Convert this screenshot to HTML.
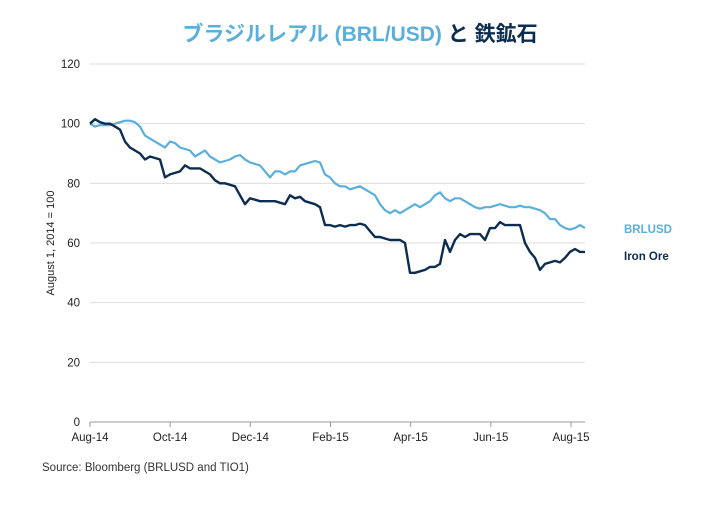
<!DOCTYPE html>
<html><head><meta charset="utf-8"><style>
body{margin:0;background:#fff;width:720px;height:500px;overflow:hidden;font-family:"Liberation Sans","Noto Sans CJK JP",sans-serif}
</style></head><body>
<svg width="720" height="500" font-family="Liberation Sans, Noto Sans CJK JP, sans-serif">
<text x="360" y="41" text-anchor="middle" font-size="21" font-weight="bold" fill="#5aafdc">ブラジルレアル (BRL/USD) <tspan fill="#0d2c4f">と 鉄鉱石</tspan></text>
<g id="grid"></g><g id="yt"></g><g id="xt"></g>
<text transform="translate(54,243) rotate(-90)" text-anchor="middle" font-size="11" fill="#222">August 1, 2014 = 100</text>
<path id="brl" fill="none" stroke="#5aafdc" stroke-width="2.2" stroke-linejoin="round"/>
<path id="iron" fill="none" stroke="#0d2c4f" stroke-width="2.4" stroke-linejoin="round"/>
<text x="624" y="233" font-size="11.5" font-weight="bold" fill="#5aafdc">BRLUSD</text>
<text x="624" y="260" font-size="11.5" font-weight="bold" fill="#0d2c4f">Iron Ore</text>
<text x="42" y="471" font-size="11.5" fill="#333">Source: Bloomberg (BRLUSD and TIO1)</text>
</svg>
<script>
const yTicks=[0,20,40,60,80,100,120];
const xTickLabels=["Aug-14","Oct-14","Dec-14","Feb-15","Apr-15","Jun-15","Aug-15"];
const xTickMonths=[0,2,4,6,8,10,12];
const brlValues=[100,99,99.5,99.5,99.5,100,100.5,101,101,100.5,99,96,95,94,93,92,94,93.5,92,91.5,91,89,90,91,89,88,87,87.5,88,89,89.5,88,87,86.5,86,84,82,84,84,83,84,84,86,86.5,87,87.5,87,83,82,80,79,79,78,78.5,79,78,77,76,73,71,70,71,70,71,72,73,72,73,74,76,77,75,74,75,75,74,73,72,71.5,72,72,72.5,73,72.5,72,72,72.5,72,72,71.5,71,70,68,68,66,65,64.5,65,66,65];
const ironValues=[100,101.5,100.5,100,100,99,98,94,92,91,90,88,89,88.5,88,82,83,83.5,84,86,85,85,85,84,83,81,80,80,79.5,79,76,73,75,74.5,74,74,74,74,73.5,73,76,75,75.5,74,73.5,73,72,66,66,65.5,66,65.5,66,66,66.5,66,64,62,62,61.5,61,61,61,60,50,50,50.5,51,52,52,53,61,57,61,63,62,63,63,63,61,65,65,67,66,66,66,66,60,57,55,51,53,53.5,54,53.5,55,57,58,57,57];
const stepMonths=5/40.08;
const X0=90,X1=571,Y0=422,Y1=64,XR=585;
const xm=m=>X0+(X1-X0)*m/12;
const yv=v=>Y0-(Y0-Y1)*v/120;
const NS="http://www.w3.org/2000/svg";
const g=document.getElementById('grid'),yt=document.getElementById('yt'),xt=document.getElementById('xt');
yTicks.forEach(t=>{
 const l=document.createElementNS(NS,'line');
 l.setAttribute('x1',X0);l.setAttribute('x2',XR);l.setAttribute('y1',yv(t));l.setAttribute('y2',yv(t));
 l.setAttribute('stroke',t===0?'#999':'#ddd');l.setAttribute('stroke-width','1');
 
 
 g.appendChild(l);
 const tx=document.createElementNS(NS,'text');
 tx.setAttribute('x',80);tx.setAttribute('y',yv(t)+4);tx.setAttribute('text-anchor','end');tx.setAttribute('font-size','11.5');tx.setAttribute('fill','#222');
 tx.textContent=t;
 
 
 yt.appendChild(tx);
});
xTickLabels.forEach((s,i)=>{
 const x=xm(xTickMonths[i]);
 const l=document.createElementNS(NS,'line');
 l.setAttribute('x1',x);l.setAttribute('x2',x);l.setAttribute('y1',Y0);l.setAttribute('y2',Y0+5);l.setAttribute('stroke','#999');
 
 
 xt.appendChild(l);
 const tx=document.createElementNS(NS,'text');
 tx.setAttribute('x',x);tx.setAttribute('y',441);tx.setAttribute('text-anchor','middle');tx.setAttribute('font-size','11.5');tx.setAttribute('fill','#222');
 tx.textContent=s;
 
 
 xt.appendChild(tx);
});
const path=a=>a.map((v,i)=>(i?'L':'M')+xm(i*stepMonths).toFixed(1)+' '+yv(v).toFixed(1)).join(' ');
document.getElementById('brl').setAttribute('d',path(brlValues));
document.getElementById('iron').setAttribute('d',path(ironValues));
</script>
</body></html>
